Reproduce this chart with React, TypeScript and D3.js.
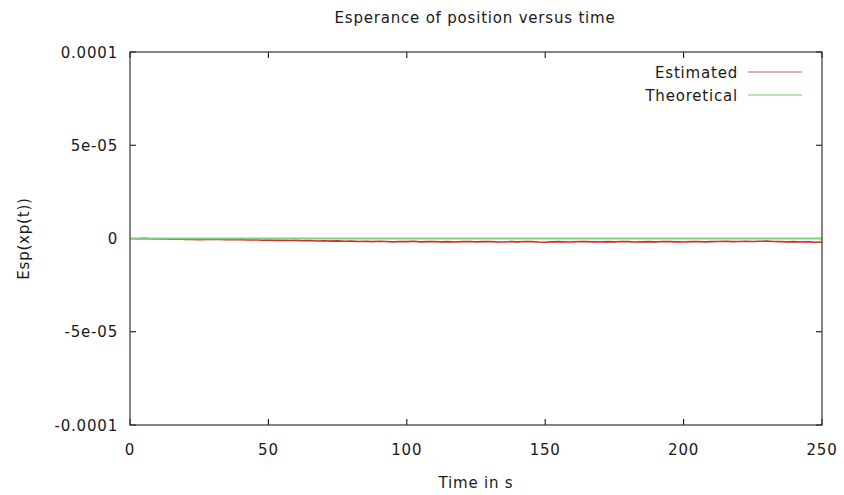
import React from "react";
import * as d3 from "d3";

const W = 844;
const H = 495;
const M = { left: 130, right: 22, top: 52, bottom: 70 };

const xTicks = [0, 50, 100, 150, 200, 250];
const yTicks = [-0.0001, -0.00005, 0, 0.00005, 0.0001];
const yTickLabels = ["-0.0001", "-5e-05", "0", "5e-05", "0.0001"];

// Estimated values (units of 1e-6), sampled every 2.5 s from 0 to 250
const estTime = d3.range(0, 251, 2.5);
const estValues = [
  0, -0.1, 0.05, -0.1, -0.2, -0.15, -0.4, -0.3, -0.5, -0.45,
  -0.6, -0.5, -0.4, -0.55, -0.6, -0.7, -0.5, -0.8, -0.7, -0.9,
  -0.8, -1.0, -0.9, -1.1, -1.0, -1.2, -1.1, -1.3, -1.2, -1.4,
  -1.3, -1.5, -1.4, -1.6, -1.5, -1.7, -1.5, -1.6, -1.8, -1.6,
  -1.7, -1.5, -1.8, -1.7, -1.6, -1.8, -1.7, -1.9, -1.7, -1.6,
  -1.8, -1.7, -1.6, -1.8, -1.9, -1.7, -1.8, -1.6, -1.7, -1.9,
  -2.0, -1.8, -1.7, -1.9, -1.8, -1.6, -1.7, -1.8, -1.9, -1.7,
  -1.8, -1.6, -1.7, -1.9, -1.8, -1.7, -1.8, -1.6, -1.7, -1.8,
  -1.9, -1.7, -1.6, -1.8, -1.7, -1.6, -1.5, -1.7, -1.6, -1.5,
  -1.6, -1.5, -1.4, -1.6, -1.7, -1.8, -1.7, -1.9, -1.8, -2.0,
  -1.9,
];
const theoTime = [0, 250];
const theoValues = [0, 0];

const FONT = "DejaVu Sans, sans-serif";

export default function App() {
  const x = d3.scaleLinear().domain([0, 250]).range([M.left, W - M.right]);
  const y = d3.scaleLinear().domain([-0.0001, 0.0001]).range([H - M.bottom, M.top]);
  const line = d3
    .line<[number, number]>()
    .x((d) => x(d[0]))
    .y((d) => y(d[1]));
  const estPts: [number, number][] = estTime.map((t, i) => [t, (estValues[i] ?? 0) * 1e-6]);
  const theoPts: [number, number][] = theoTime.map((t, i) => [t, theoValues[i]]);
  const x0 = x(0), x1 = x(250), y0 = y(-0.0001), y1 = y(0.0001);
  const tl = 6;
  const stroke = "#000";
  const textFill = "#1a1a1a";
  return (
    <svg
      width={W}
      height={H}
      style={{ position: "absolute", left: 0, top: 0, background: "#fff" }}
      fontFamily={FONT}
      fontSize={15}
      letterSpacing={0.8}
    >
      <rect width={W} height={H} fill="#fff" />
      <text x={475} y={23} textAnchor="middle" fill={textFill}>
        Esperance of position versus time
      </text>
      {/* ticks */}
      {xTicks.map((t) => (
        <g key={"x" + t}>
          <line x1={x(t)} x2={x(t)} y1={y0} y2={y0 - tl} stroke={stroke} />
          <line x1={x(t)} x2={x(t)} y1={y1} y2={y1 + tl} stroke={stroke} />
          <text x={x(t)} y={455} textAnchor="middle" fill={textFill}>
            {t}
          </text>
        </g>
      ))}
      {yTicks.map((t, i) => (
        <g key={"y" + i}>
          <line x1={x0} x2={x0 + tl} y1={y(t)} y2={y(t)} stroke={stroke} />
          <line x1={x1} x2={x1 - tl} y1={y(t)} y2={y(t)} stroke={stroke} />
          <text x={118} y={y(t) + 5.5} textAnchor="end" fill={textFill}>
            {yTickLabels[i]}
          </text>
        </g>
      ))}
      <text x={476} y={488} textAnchor="middle" fill={textFill}>
        Time in s
      </text>
      <text
        transform={`translate(29,${y(0)}) rotate(-90)`}
        textAnchor="middle"
        fill={textFill}
      >
        Esp(xp(t))
      </text>
      {/* series */}
      <path d={line(estPts) ?? ""} fill="none" stroke="#d42a2a" strokeWidth={1.6} />
      <path d={line(theoPts) ?? ""} fill="none" stroke="#7ed47e" strokeWidth={1.8} />
      {/* legend */}
      <text x={738} y={77.5} textAnchor="end" fill={textFill}>
        Estimated
      </text>
      <line x1={748} x2={802} y1={72} y2={72} stroke="#c06464" strokeWidth={1.2} />
      <text x={738} y={100.5} textAnchor="end" fill={textFill}>
        Theoretical
      </text>
      <line x1={748} x2={802} y1={95} y2={95} stroke="#6ccc6c" strokeWidth={1.2} />
      {/* frame */}
      <rect
        x={x0}
        y={y1}
        width={x1 - x0}
        height={y0 - y1}
        fill="none"
        stroke="#333"
        strokeWidth={1.2}
      />
    </svg>
  );
}
